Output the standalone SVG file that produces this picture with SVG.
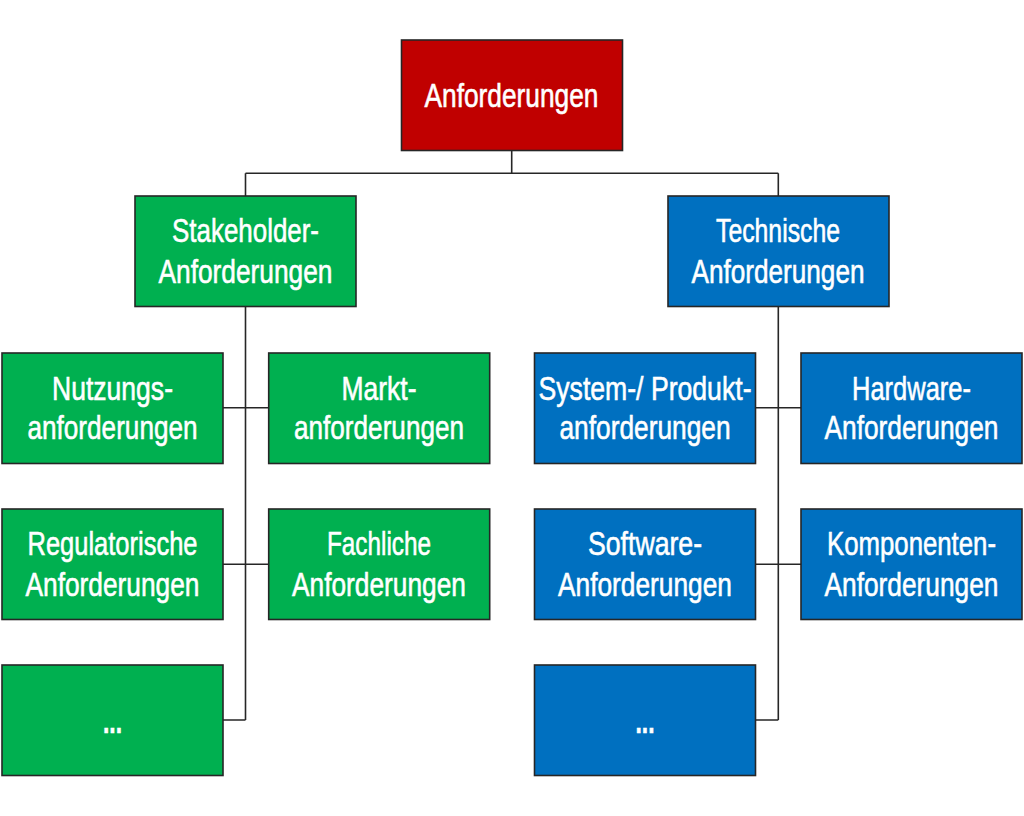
<svg xmlns="http://www.w3.org/2000/svg" width="1024" height="816" viewBox="0 0 1024 816">
<style>
.box{stroke:#262626;stroke-width:1.6}
.red{fill:#C00000}
.green{fill:#00B050}
.blue{fill:#0070C0}
text{font-family:"Liberation Sans",Arial,sans-serif;font-size:34px;fill:#ffffff;stroke:#ffffff;stroke-width:0.6;text-anchor:middle}
.dots{font-weight:bold}
.conn{fill:none;stroke:#262626;stroke-width:1.6}
</style>
<rect width="1024" height="816" fill="#ffffff"/>
<g id="connectors">
<path class="conn" d="M511.7 150.5 V173.3 M245.5 173.3 H778.3 M245.5 173.3 V196 M778.3 173.3 V196"/>
<path class="conn" d="M245.5 306.5 V720 M222.7 407.7 H268.7 M222.7 564.3 H268.7 M222.7 720 H245.5"/>
<path class="conn" d="M778.3 306.5 V720 M755.7 407.7 H801 M755.7 564.3 H801 M755.7 720 H778.3"/>
</g>
<g id="root">
<rect class="box red" x="401.5" y="40" width="221" height="110.5"/>
<g transform="translate(511.5 0) scale(0.77 1)">
<text x="0" y="107" textLength="226" lengthAdjust="spacingAndGlyphs">Anforderungen</text>
</g>
</g>
<g id="stakeholder">
<rect class="box green" x="135" y="196" width="221" height="110.5"/>
<g transform="translate(245.5 0) scale(0.77 1)">
<text x="0" y="242" textLength="190.9" lengthAdjust="spacingAndGlyphs">Stakeholder-</text>
<text x="0" y="283" textLength="226" lengthAdjust="spacingAndGlyphs">Anforderungen</text>
</g>
</g>
<g id="technische">
<rect class="box blue" x="668" y="196" width="221" height="110.5"/>
<g transform="translate(778 0) scale(0.77 1)">
<text x="0" y="242" textLength="161" lengthAdjust="spacingAndGlyphs">Technische</text>
<text x="0" y="283" textLength="224.7" lengthAdjust="spacingAndGlyphs">Anforderungen</text>
</g>
</g>
<g id="nutzung">
<rect class="box green" x="2" y="353" width="221" height="110.5"/>
<g transform="translate(112.5 0) scale(0.77 1)">
<text x="0" y="400" textLength="157.1" lengthAdjust="spacingAndGlyphs">Nutzungs-</text>
<text x="0" y="439" textLength="220.8" lengthAdjust="spacingAndGlyphs">anforderungen</text>
</g>
</g>
<g id="markt">
<rect class="box green" x="268.7" y="353" width="221" height="110.5"/>
<g transform="translate(379 0) scale(0.77 1)">
<text x="0" y="400" textLength="97.4" lengthAdjust="spacingAndGlyphs">Markt-</text>
<text x="0" y="439" textLength="220.8" lengthAdjust="spacingAndGlyphs">anforderungen</text>
</g>
</g>
<g id="regulatorisch">
<rect class="box green" x="2" y="509" width="221" height="110.5"/>
<g transform="translate(112.5 0) scale(0.77 1)">
<text x="0" y="555" textLength="220.8" lengthAdjust="spacingAndGlyphs">Regulatorische</text>
<text x="0" y="596" textLength="226" lengthAdjust="spacingAndGlyphs">Anforderungen</text>
</g>
</g>
<g id="fachlich">
<rect class="box green" x="268.7" y="509" width="221" height="110.5"/>
<g transform="translate(379 0) scale(0.77 1)">
<text x="0" y="555" textLength="135.1" lengthAdjust="spacingAndGlyphs">Fachliche</text>
<text x="0" y="596" textLength="226" lengthAdjust="spacingAndGlyphs">Anforderungen</text>
</g>
</g>
<g id="green-more">
<rect class="box green" x="2" y="665" width="221" height="110.5"/>
<g transform="translate(112.5 0) scale(0.77 1)">
<text class="dots" x="0" y="733" textLength="24.7" lengthAdjust="spacingAndGlyphs">...</text>
</g>
</g>
<g id="system">
<rect class="box blue" x="534.5" y="353" width="221" height="110.5"/>
<g transform="translate(645 0) scale(0.77 1)">
<text x="0" y="400" textLength="276.6" lengthAdjust="spacingAndGlyphs">System-/ Produkt-</text>
<text x="0" y="439" textLength="222.1" lengthAdjust="spacingAndGlyphs">anforderungen</text>
</g>
</g>
<g id="hardware">
<rect class="box blue" x="801" y="353" width="221" height="110.5"/>
<g transform="translate(911.5 0) scale(0.77 1)">
<text x="0" y="400" textLength="154.5" lengthAdjust="spacingAndGlyphs">Hardware-</text>
<text x="0" y="439" textLength="226" lengthAdjust="spacingAndGlyphs">Anforderungen</text>
</g>
</g>
<g id="software">
<rect class="box blue" x="534.5" y="509" width="221" height="110.5"/>
<g transform="translate(645 0) scale(0.77 1)">
<text x="0" y="555" textLength="148.1" lengthAdjust="spacingAndGlyphs">Software-</text>
<text x="0" y="596" textLength="226" lengthAdjust="spacingAndGlyphs">Anforderungen</text>
</g>
</g>
<g id="komponenten">
<rect class="box blue" x="801" y="509" width="221" height="110.5"/>
<g transform="translate(911.5 0) scale(0.77 1)">
<text x="0" y="555" textLength="219.5" lengthAdjust="spacingAndGlyphs">Komponenten-</text>
<text x="0" y="596" textLength="226" lengthAdjust="spacingAndGlyphs">Anforderungen</text>
</g>
</g>
<g id="blue-more">
<rect class="box blue" x="534.5" y="665" width="221" height="110.5"/>
<g transform="translate(645 0) scale(0.77 1)">
<text class="dots" x="0" y="733" textLength="24.7" lengthAdjust="spacingAndGlyphs">...</text>
</g>
</g>
</svg>
